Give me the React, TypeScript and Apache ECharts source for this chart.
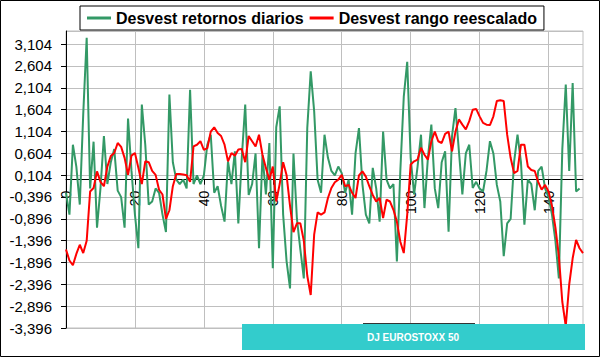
import React, { useEffect, useRef } from 'react';
import * as echarts from 'echarts';

const FONT = '"Liberation Sans", Arial, sans-serif';

const categories = [
  '0','1','2','3','4','5','6','7','8','9','10','11','12','13','14','15','16','17','18','19',
  '20','21','22','23','24','25','26','27','28','29','30','31','32','33','34','35','36','37','38','39',
  '40','41','42','43','44','45','46','47','48','49','50','51','52','53','54','55','56','57','58','59',
  '60','61','62','63','64','65','66','67','68','69','70','71','72','73','74','75','76','77','78','79',
  '80','81','82','83','84','85','86','87','88','89','90','91','92','93','94','95','96','97','98','99',
  '100','101','102','103','104','105','106','107','108','109','110','111','112','113','114','115','116','117','118','119',
  '120','121','122','123','124','125','126','127','128','129','130','131','132','133','134','135','136','137','138','139',
  '140','141','142','143','144','145','146','147','148','149','150'
];

const retornosDiarios = [
  -0.3, -0.8, 0.8, 0.3, -0.57, 1.5, 3.25, -0.2, 0.87, -1.1,
  -0.2, 1.0, -0.1, 0.4, 0.7, -0.25, -0.4, -1.1, 1.4, 0.2,
  -0.8, -1.57, 1.72, 0.8, -0.57, -0.5, -0.2, -0.3, -0.8, -1.2,
  1.95, 0.4, 0.0, -0.1, 0.0, -0.2, 2.06, -0.1, 0.1, -0.1,
  0.1, 0.8, 1.03, -0.3, -0.15, -0.6, -0.96, 0.42, -0.1, 0.65,
  -1.0, 0.5, 1.72, -0.35, -0.1, 0.6, -1.57, 0.57, -0.34, 0.84,
  -2.03, 1.2, 1.68, -0.8, -1.87, -2.49, 0.6, -0.9, -1.6, -2.26,
  1.18, 2.48, 1.57, 0.0, -0.3, 1.03, 0.5, 0.2, 0.1, 0.3,
  0.15, -0.3, 0.0, -0.8, 0.6, 1.18, -0.1, -0.8, -1.0, 0.27,
  -0.2, -0.96, 1.1, 0.0, -0.2, -0.1, -1.87, 0.2, 1.9, 2.7,
  0.5, -0.34, 0.3, 1.03, -0.65, 0.5, 1.26, -0.2, -0.65, 0.4,
  0.65, -1.19, 1.0, 1.64, 0.65, -0.34, 0.6, 0.8, -0.19, -0.05,
  -0.2, -0.27, 0.2, 0.88, 0.6, -0.12, -0.5, -1.75, -1.0, -0.9,
  0.4, 1.03, 0.4, -1.03, 0.0, -0.1, -0.7, 0.2, 0.3, -0.2,
  -0.4, -0.8, -1.4, -2.26, 0.7, 2.18, 0.2, 2.21, -0.27, -0.2
];

const rangoReescalado = [
  -1.6, -1.85, -1.96, -1.7, -1.49, -1.68, -1.4, -0.27, -0.19, 0.19,
  -0.05, -0.15, 0.3, 0.54, 0.61, 0.84, 0.75, 0.5, 0.11, 0.55,
  0.61, 0.27, -0.1, 0.42, 0.4, 0.2, 0.11, -0.23, -0.34, -0.9,
  -0.7, -0.15, 0.13, 0.13, 0.12, 0.1, -0.05, 0.76, 0.8, 0.88,
  0.68, 0.72, 1.1, 1.2, 1.07, 1.0, 0.8, 0.42, 0.61, 0.55,
  0.69, 0.7, 0.4, 1.0, 0.88, 0.76, 1.03, 0.57, 0.27, 0.0,
  0.3, -0.5, -0.1, 0.4, 0.1, -0.6, -1.2, -1.0, -1.0, -1.4,
  -2.2, -2.64, -1.26, -0.75, -0.8, -0.75, -0.42, -0.19, -0.06, 0.0,
  0.11, -0.15, -0.12, -0.3, -0.42, 0.1, 0.19, 0.07, -0.15, -0.35,
  -0.5, -0.42, -0.88, -0.46, -0.5, -0.69, -0.96, -1.42, -1.68, -0.8,
  0.35, 0.42, 0.46, 0.73, 0.57, 0.46, 0.88, 1.1, 0.88, 0.84,
  1.05, 1.1, 0.65, 1.1, 1.38, 1.26, 1.15, 1.34, 1.6, 1.62,
  1.45, 1.3, 1.26, 1.25, 1.45, 1.8, 1.82, 1.8, 1.03, 0.5,
  0.15, 0.2, 0.8, 0.8, 0.3, 0.22, 0.2, -0.05, -0.23, -0.12,
  -0.27, -0.6, -1.1, -1.75, -2.8, -3.35, -2.4, -1.8, -1.38, -1.57,
  -1.68
];

const seriesNames = ['Desvest retornos diarios', 'Desvest rango reescalado'];
const footerLabel = 'DJ EUROSTOXX 50';
const yMin = -3.396;
const yMax = 3.404;
const yStep = 0.5;

const GRID_TOP = 31;
const GRID_BOTTOM = 30;
const CHART_H = 358;

export default function App() {
  const ref = useRef<HTMLDivElement>(null);
  useEffect(() => {
    document.body.style.margin = '0';
    const chart = echarts.init(ref.current as HTMLDivElement, null, { renderer: 'svg' });
    // distance from the bottom of the plot to the zero line, so the category axis sits on zero
    const plotH = CHART_H - GRID_TOP - GRID_BOTTOM;
    const zeroOffset = -((0 - yMin) / (yMax - yMin)) * plotH;
    chart.setOption({
      animation: false,
      backgroundColor: '#ffffff',
      textStyle: { fontFamily: FONT },
      grid: {
        left: 66, right: 18, top: GRID_TOP, bottom: GRID_BOTTOM,
        show: true, borderColor: '#BFBFBF', borderWidth: 1, backgroundColor: 'transparent'
      },
      legend: {
        left: 80, top: 6,
        padding: [4, 7, 4, 7],
        itemGap: 6,
        itemWidth: 24, itemHeight: 3,
        icon: 'rect',
        backgroundColor: '#ffffff',
        borderColor: '#000000', borderWidth: 1,
        textStyle: { fontSize: 16, fontWeight: 'bold', color: '#000000', fontFamily: FONT },
        data: seriesNames
      },
      xAxis: {
        type: 'category',
        data: categories,
        boundaryGap: false,
        position: 'bottom',
        offset: zeroOffset,
        axisLine: { onZero: false, lineStyle: { color: '#000000', width: 1 } },
        axisTick: { show: true, interval: 19, length: 5, lineStyle: { color: '#000000' } },
        axisLabel: { interval: 19, rotate: 90, fontSize: 14, color: '#000000', margin: 11, fontFamily: FONT },
        splitLine: { show: true, interval: 19, lineStyle: { color: '#BFBFBF', width: 1 } }
      },
      yAxis: {
        type: 'value',
        min: yMin, max: yMax, interval: yStep,
        axisLine: { show: true, onZero: false, lineStyle: { color: '#000000', width: 1 } },
        axisTick: { show: true, length: 5, lineStyle: { color: '#000000' } },
        axisLabel: {
          fontSize: 15, color: '#000000', margin: 14, fontFamily: FONT,
          showMaxLabel: false,
          formatter: (v: number) => v.toFixed(3).replace('.', ',')
        },
        splitLine: { show: true, lineStyle: { color: '#BFBFBF', width: 1 } }
      },
      series: [
        {
          name: seriesNames[0], type: 'line', data: retornosDiarios,
          symbol: 'none', showSymbol: false,
          lineStyle: { color: '#339966', width: 2 }, itemStyle: { color: '#339966' }
        },
        {
          name: seriesNames[1], type: 'line', data: rangoReescalado,
          symbol: 'none', showSymbol: false,
          lineStyle: { color: '#FF0000', width: 2 }, itemStyle: { color: '#FF0000' }
        }
      ],
      graphic: [
        {
          type: 'rect', z: 100, silent: true,
          shape: { x: 0.5, y: 0.5, width: 599, height: 356 },
          style: { fill: 'none', stroke: '#000000', lineWidth: 1 }
        },
        {
          type: 'rect', z: 100, silent: true,
          shape: { x: 242, y: 324, width: 343, height: 26 },
          style: { fill: '#33CCCC' }
        },
        {
          type: 'line', z: 101, silent: true,
          shape: { x1: 363, y1: 323.5, x2: 475, y2: 323.5 },
          style: { stroke: '#333333', lineWidth: 1 }
        },
        {
          type: 'text', z: 101, silent: true,
          x: 413, y: 337,
          style: {
            text: footerLabel, fill: '#ffffff', fontSize: 10, fontWeight: 'bold',
            fontFamily: FONT, align: 'center', verticalAlign: 'middle'
          }
        }
      ]
    });
    return () => chart.dispose();
  }, []);
  return <div ref={ref} style={{ width: 601, height: 358 }} />;
}
